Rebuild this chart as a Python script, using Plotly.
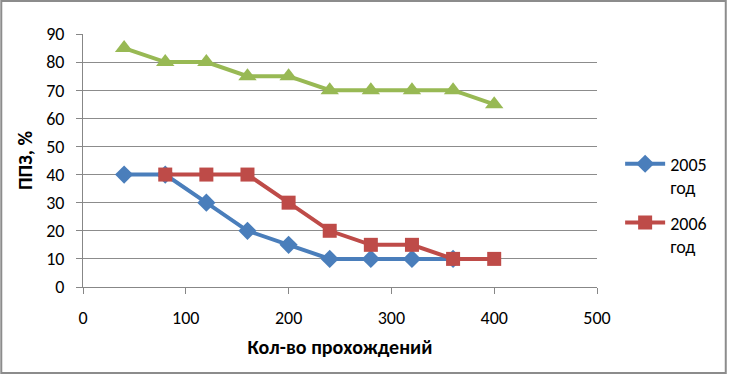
import plotly.graph_objects as go

x_all = [40, 80, 120, 160, 200, 240, 280, 320, 360, 400]
green_vals = [85, 80, 80, 75, 75, 70, 70, 70, 70, 65]
x_2005 = [40, 80, 120, 160, 200, 240, 280, 320, 360]
vals_2005 = [40, 40, 30, 20, 15, 10, 10, 10, 10]
x_2006 = [80, 120, 160, 200, 240, 280, 320, 360, 400]
vals_2006 = [40, 40, 40, 30, 20, 15, 15, 10, 10]
names = ["2005<br>год", "2006<br>год"]
x_ticks = [0, 100, 200, 300, 400, 500]
y_ticks = [0, 10, 20, 30, 40, 50, 60, 70, 80, 90]

FONT = "Carlito, Lato, 'Liberation Sans', sans-serif"

fig = go.Figure()
fig.add_trace(go.Scatter(x=x_all, y=green_vals, mode="lines+markers", showlegend=False,
                         line=dict(color="#98B954", width=4),
                         marker=dict(symbol="triangle-up", size=16, color="#98B954")))
fig.add_trace(go.Scatter(x=x_2005, y=vals_2005, mode="lines+markers", name=names[0],
                         legendgroup="g1",
                         line=dict(color="#4A7EBB", width=4),
                         marker=dict(symbol="diamond", size=14, color="#4A7EBB")))
fig.add_trace(go.Scatter(x=x_2006, y=vals_2006, mode="lines+markers", name=names[1],
                         legendgroup="g2",
                         line=dict(color="#BE4B48", width=4),
                         marker=dict(symbol="square", size=14, color="#BE4B48")))

fig.update_layout(
    width=730, height=376,
    margin=dict(l=83, r=133, t=34, b=89),
    paper_bgcolor="white", plot_bgcolor="white",
    font=dict(family=FONT, size=18, color="black"),
    legend=dict(x=1.045, y=0.559, xanchor="left", yanchor="top", valign="top",
                font=dict(size=18), traceorder="grouped", tracegroupgap=9, itemwidth=40),
    xaxis=dict(range=[0, 500], tickvals=x_ticks, showgrid=False,
               showline=True, linecolor="#878787", linewidth=1,
               ticks="outside", ticklen=6, tickcolor="#878787",
               zeroline=False, tickfont=dict(size=18), ticklabelstandoff=8,
               title=dict(text="<b>Кол-во прохождений</b>", font=dict(size=20), standoff=12)),
    yaxis=dict(range=[0, 90], tickvals=y_ticks, showgrid=True, gridcolor="#8C8C8C", gridwidth=1,
               showline=True, linecolor="#878787", linewidth=1,
               ticks="outside", ticklen=6, tickcolor="#878787",
               zeroline=False, tickfont=dict(size=18), ticklabelstandoff=8,
               title=dict(text="<b>ППЗ, %</b>", font=dict(size=20), standoff=8)),
    shapes=[dict(type="rect", xref="paper", yref="paper",
                 x0=-0.159, x1=1.2505, y0=-0.340, y1=1.130,
                 line=dict(color="#8C8C8C", width=2))],
)

fig.write_html("out.html", config={"displayModeBar": False},
               post_script="document.body.style.margin='0px';")
